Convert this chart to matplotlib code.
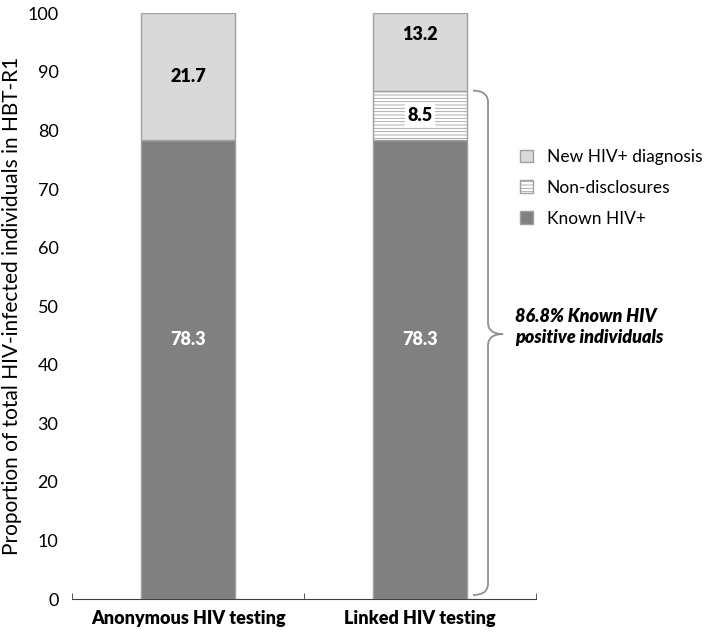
import matplotlib.pyplot as plt
from matplotlib.path import Path
from matplotlib.patches import PathPatch

plt.rcParams['font.family'] = ['Lato', 'DejaVu Sans']
plt.rcParams['hatch.color'] = '#b0b0b0'
plt.rcParams['hatch.linewidth'] = 0.6

categories = ['Anonymous HIV testing', 'Linked HIV testing']
known = [78.3, 78.3]
nondisclosure = [0, 8.5]
new_diag = [21.7, 13.2]
brace_label = '86.8% Known HIV\npositive individuals'

fig = plt.figure(figsize=(7.09, 6.34), dpi=100)
ax = fig.add_axes([0.102, 0.055, 0.654, 0.924])

x = range(len(categories))
w = 0.405
edge = '#a0a0a0'
b1 = ax.bar(x, known, w, color='#808080', edgecolor=edge, linewidth=1, label='Known HIV+')
b2 = ax.bar(x, nondisclosure, w, bottom=known, color='white', edgecolor=edge,
            hatch='-----', linewidth=1, label='Non-disclosures')
bottoms = [k + n for k, n in zip(known, nondisclosure)]
b3 = ax.bar(x, new_diag, w, bottom=bottoms, color='#d9d9d9', edgecolor=edge,
            linewidth=1, label='New HIV+ diagnosis')

for i in x:
    ax.text(i, known[i] * 0.565, f'{known[i]:.1f}', ha='center', va='center',
            color='white', fontsize=13, fontweight='heavy')
    frac = 0.5 if nondisclosure[i] == 0 else 0.72
    ax.text(i, bottoms[i] + new_diag[i] * frac, f'{new_diag[i]:.1f}', ha='center',
            va='center', color='black', fontsize=13, fontweight='heavy')
    if nondisclosure[i] > 0:
        ax.text(i, known[i] + nondisclosure[i] / 2, f'{nondisclosure[i]:.1f}',
                ha='center', va='center', color='black', fontsize=13, fontweight='heavy',
                bbox=dict(facecolor='white', edgecolor='none', pad=2))

# curly brace next to the linked bar
top = bottoms[1]
low = 0.7
mid = (top + low) / 2 + 1.5
x0, x1, xm = 1.228, 1.293, 1.358
r = 2.0
verts = [(x0, top), (x1, top), (x1, top - r),
         (x1, mid + r), (x1, mid), (xm, mid),
         (x1, mid), (x1, mid - r),
         (x1, low + r), (x1, low), (x0, low)]
codes = [Path.MOVETO, Path.CURVE3, Path.CURVE3,
         Path.LINETO, Path.CURVE3, Path.CURVE3,
         Path.CURVE3, Path.CURVE3,
         Path.LINETO, Path.CURVE3, Path.CURVE3]
ax.add_patch(PathPatch(Path(verts, codes), facecolor='none', edgecolor='#909090',
                       linewidth=1.3, clip_on=False))
ax.text(1.41, mid + 1.2, brace_label, ha='left', va='center', fontsize=13,
        fontweight='heavy', fontstyle='italic', linespacing=1.3)

handles = [b3, b2, b1]
ax.legend(handles, [h.get_label() for h in handles], loc='upper left',
          bbox_to_anchor=(0.95, 0.78), frameon=False, fontsize=12.5,
          handlelength=0.75, handleheight=0.75, handletextpad=0.8,
          labelspacing=0.85, borderaxespad=0)

ax.set_xlim(-0.5, 1.5)
ax.set_ylim(0, 100)
ax.set_yticks(range(0, 101, 10))
ax.set_xticks(list(x))
ax.set_xticklabels(categories, fontsize=13, fontweight='heavy')
ax.set_xticks([-0.5, 0.5, 1.5], minor=True)
ax.tick_params(axis='x', which='major', length=0, pad=8)
ax.tick_params(axis='x', which='minor', length=4, direction='in', color='#404040')
ax.tick_params(axis='y', length=0, labelsize=13, pad=10)
ax.set_ylabel('Proportion of total HIV-infected individuals in HBT-R1', fontsize=15, labelpad=4)
for s in ['top', 'right', 'left']:
    ax.spines[s].set_visible(False)
ax.spines['bottom'].set_color('#404040')

fig.savefig('out.png', dpi=100)
